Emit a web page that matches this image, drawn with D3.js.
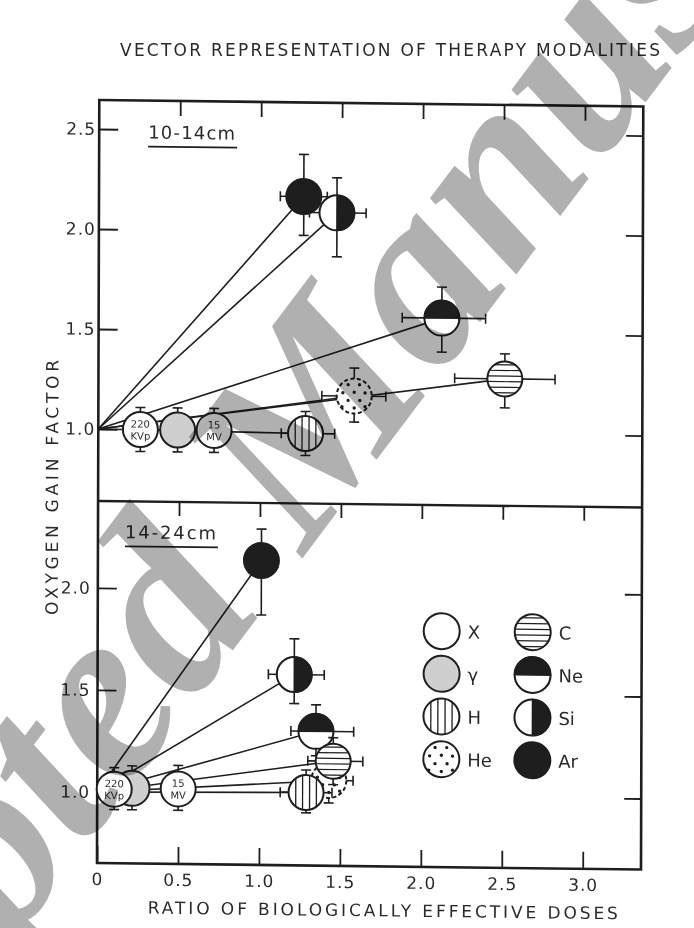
<!DOCTYPE html>
<html>
<head>
<meta charset="utf-8">
<script src="https://cdn.jsdelivr.net/npm/d3@7"></script>
<style>
body { margin: 0; background: #fff; }
svg text { font-family: "DejaVu Sans", sans-serif; fill: #2a2a2a; }
</style>
</head>
<body>
<svg id="chart" width="694" height="928"></svg>
<script>
var title = "VECTOR REPRESENTATION OF THERAPY MODALITIES";
var xTitle = "RATIO OF BIOLOGICALLY EFFECTIVE DOSES";
var yTitle = "OXYGEN GAIN FACTOR";

var xTicks = [0, 0.5, 1.0, 1.5, 2.0, 2.5, 3.0];
var yTicksTop = [1.0, 1.5, 2.0, 2.5];
var yTicksBot = [1.0, 1.5, 2.0];

var legendLeft = ["X", "γ", "H", "He"];
var legendRight = ["C", "Ne", "Si", "Ar"];

// 10-14 cm panel
var ptsTop = [
    {key: "X", tag: ["220", "KVp"], x: 0.26, y: 1.0, yLo: 0.89, yHi: 1.11},
    {key: "γ", x: 0.49, y: 1.0, yLo: 0.89, yHi: 1.11},
    {key: "X", tag: ["15", "MV"], x: 0.715, y: 1.0, yLo: 0.89, yHi: 1.11},
    {key: "H", x: 1.28, y: 0.99, yLo: 0.88, yHi: 1.10, xLo: 1.13, xHi: 1.46},
    {key: "He", x: 1.58, y: 1.18, yLo: 1.05, yHi: 1.32, xLo: 1.38, xHi: 1.775},
    {key: "C", x: 2.51, y: 1.275, yLo: 1.13, yHi: 1.40, xLo: 2.20, xHi: 2.82},
    {key: "Ne", x: 2.12, y: 1.575, yLo: 1.405, yHi: 1.73, xLo: 1.875, xHi: 2.39},
    {key: "Ar", x: 1.265, y: 2.175, yLo: 1.98, yHi: 2.385, xLo: 1.12, xHi: 1.41},
    {key: "Si", x: 1.47, y: 2.095, yLo: 1.875, yHi: 2.27, xLo: 1.30, xHi: 1.65}
];

// 14-24 cm panel
var ptsBot = [
    {key: "He", x: 1.43, y: 1.07, yLo: 0.96, yHi: 1.18, xLo: 1.28, xHi: 1.58},
    {key: "H", x: 1.29, y: 1.01, yLo: 0.91, yHi: 1.12, xLo: 1.13, xHi: 1.45},
    {key: "Ne", x: 1.35, y: 1.31, yLo: 1.19, yHi: 1.44, xLo: 1.195, xHi: 1.583},
    {key: "C", x: 1.457, y: 1.165, yLo: 1.05, yHi: 1.28, xLo: 1.30, xHi: 1.64},
    {key: "Si", x: 1.215, y: 1.587, yLo: 1.445, yHi: 1.762, xLo: 1.055, xHi: 1.40},
    {key: "Ar", x: 1.01, y: 2.144, yLo: 1.877, yHi: 2.298},
    {key: "γ", x: 0.215, y: 1.02, yLo: 0.915, yHi: 1.13},
    {key: "X", tag: ["220", "KVp"], x: 0.105, y: 1.015, yLo: 0.915, yHi: 1.12},
    {key: "X", tag: ["15", "MV"], x: 0.50, y: 1.02, yLo: 0.915, yHi: 1.135}
];

var origin = [0, 1.0];
var ink = "#1e1e1e";
var R = 17.5;

var svg = d3.select("#chart");

var x = d3.scaleLinear().domain([0, 3.36]).range([97, 641]);
var yTop = d3.scaleLinear().domain([0.64, 2.645]).range([501, 100]);
var yBot = d3.scaleLinear().domain([0.652, 2.426]).range([863, 501]);

svg.append("text")
    .attr("x", 120).attr("y", 56)
    .attr("textLength", 540).attr("lengthAdjust", "spacing")
    .style("font-size", "17px")
    .text(title);

// scanned page is a little skewed
var plot = svg.append("g")
    .attr("transform", "translate(97,863) matrix(1,0.012,-0.003,1,0,0) translate(-97,-863)");

var fmt = d => d === 0 ? "0" : d3.format(".1f")(d);

function cleanAxis(g) {
    g.select(".domain").remove();
    g.selectAll(".tick line").attr("stroke", ink).attr("stroke-width", 1.8);
    g.selectAll(".tick text").style("font-size", "17px").style("letter-spacing", "1px").attr("fill", "#2a2a2a");
}

// axes
plot.append("g").attr("transform", `translate(${x(0)},0)`)
    .call(d3.axisLeft(yTop).tickValues(yTicksTop).tickSize(-19).tickPadding(3).tickFormat(fmt))
    .call(cleanAxis);
plot.append("g").attr("transform", `translate(${x(0)},0)`)
    .call(d3.axisLeft(yBot).tickValues(yTicksBot).tickSize(-19).tickPadding(7).tickFormat(fmt))
    .call(cleanAxis);
plot.append("g").attr("transform", `translate(${x.range()[1]},0)`)
    .call(d3.axisRight(yTop).tickValues(yTicksTop).tickSize(-17).tickFormat(""))
    .call(cleanAxis);
plot.append("g").attr("transform", `translate(${x.range()[1]},0)`)
    .call(d3.axisRight(yBot).tickValues(yTicksBot).tickSize(-17).tickFormat(""))
    .call(cleanAxis);
plot.append("g").attr("transform", `translate(0,${yTop.range()[1]})`)
    .call(d3.axisTop(x).tickValues(xTicks.slice(1)).tickSize(-15).tickFormat(""))
    .call(cleanAxis);
plot.append("g").attr("transform", `translate(0,${yBot.range()[1]})`)
    .call(d3.axisTop(x).tickValues(xTicks.slice(1)).tickSize(-14).tickFormat(""))
    .call(cleanAxis);
plot.append("g").attr("transform", `translate(0,${yBot.range()[0]})`)
    .call(d3.axisBottom(x).tickValues(xTicks).tickSize(-17).tickPadding(10).tickFormat(fmt))
    .call(cleanAxis);

// frame + divider
plot.append("rect")
    .attr("x", x(0)).attr("y", yTop.range()[1])
    .attr("width", x.range()[1] - x(0))
    .attr("height", yBot.range()[0] - yTop.range()[1])
    .attr("fill", "none").attr("stroke", ink).attr("stroke-width", 2.6);
plot.append("line")
    .attr("x1", x(0)).attr("x2", x.range()[1])
    .attr("y1", yTop.range()[0]).attr("y2", yTop.range()[0])
    .attr("stroke", ink).attr("stroke-width", 2.4);

plot.append("text")
    .attr("transform", "translate(57,488) rotate(-90)")
    .attr("text-anchor", "middle")
    .attr("textLength", 255).attr("lengthAdjust", "spacing")
    .style("font-size", "17px")
    .text(yTitle);

plot.append("text")
    .attr("x", 148).attr("y", 913)
    .attr("textLength", 470).attr("lengthAdjust", "spacing")
    .style("font-size", "17px")
    .text(xTitle);

var clipId = 0;

function symbol(g, key, cx, cy, r, dashed) {
    var s = g.append("g");
    var fill = key === "γ" ? "#cfcfcf" : key === "Ar" ? ink : "#fff";
    s.append("circle").attr("cx", cx).attr("cy", cy).attr("r", r).attr("fill", fill);

    if (key === "H" || key === "C" || key === "He") {
        var id = "clip" + (clipId++);
        s.append("clipPath").attr("id", id)
            .append("circle").attr("cx", cx).attr("cy", cy).attr("r", r);
        var inner = s.append("g").attr("clip-path", `url(#${id})`);
        if (key === "H") {
            [-0.59, -0.2, 0.2, 0.59].forEach(k => inner.append("line")
                .attr("x1", cx + k * r).attr("x2", cx + k * r)
                .attr("y1", cy - r).attr("y2", cy + r)
                .attr("stroke", ink).attr("stroke-width", 1.3));
        } else if (key === "C") {
            [-0.8, -0.48, -0.16, 0.16, 0.48, 0.8].forEach(k => inner.append("line")
                .attr("y1", cy + k * r).attr("y2", cy + k * r)
                .attr("x1", cx - r).attr("x2", cx + r)
                .attr("stroke", ink).attr("stroke-width", 1.2));
        } else {
            [[-0.35, -0.65], [0.3, -0.65], [-0.65, -0.18], [0, -0.22], [0.62, -0.18],
             [-0.35, 0.25], [0.32, 0.25], [-0.7, 0.62], [0, 0.68], [0.62, 0.6]]
                .forEach(p => inner.append("circle")
                    .attr("cx", cx + p[0] * r).attr("cy", cy + p[1] * r)
                    .attr("r", 1.7).attr("fill", ink));
        }
    }
    if (key === "Ne") {
        s.append("path")
            .attr("d", `M${cx - r},${cy} A${r},${r} 0 0 1 ${cx + r},${cy} Z`)
            .attr("fill", ink).attr("stroke", ink).attr("stroke-width", 1.5);
    }
    if (key === "Si") {
        s.append("path")
            .attr("d", `M${cx},${cy - r} A${r},${r} 0 0 1 ${cx},${cy + r} Z`)
            .attr("fill", ink).attr("stroke", ink).attr("stroke-width", 1.5);
    }
    s.append("circle").attr("cx", cx).attr("cy", cy).attr("r", r)
        .attr("fill", "none").attr("stroke", ink).attr("stroke-width", 2)
        .attr("stroke-dasharray", dashed && key === "He" ? "4,2.5" : null);
    return s;
}

function errorBars(g, d, y) {
    var cx = x(d.x), cy = y(d.y), cap = 5;
    var e = g.append("g").attr("stroke", ink).attr("stroke-width", 1.6);
    if (d.yLo !== undefined) {
        e.append("line").attr("x1", cx).attr("x2", cx).attr("y1", y(d.yLo)).attr("y2", y(d.yHi));
        [d.yLo, d.yHi].forEach(v => e.append("line")
            .attr("x1", cx - cap).attr("x2", cx + cap).attr("y1", y(v)).attr("y2", y(v)));
    }
    if (d.xLo !== undefined) {
        e.append("line").attr("y1", cy).attr("y2", cy).attr("x1", x(d.xLo)).attr("x2", x(d.xHi));
        [d.xLo, d.xHi].forEach(v => e.append("line")
            .attr("y1", cy - cap).attr("y2", cy + cap).attr("x1", x(v)).attr("x2", x(v)));
    }
}

function drawPanel(pts, y, label, lx, ly, lw) {
    var g = plot.append("g");

    g.selectAll("line.vector")
        .data(pts.filter(d => d.key !== "X" && d.key !== "γ"))
        .enter().append("line")
        .attr("class", "vector")
        .attr("x1", x(origin[0])).attr("y1", y(origin[1]))
        .attr("x2", d => x(d.x)).attr("y2", d => y(d.y))
        .attr("stroke", ink).attr("stroke-width", 1.6);

    pts.forEach(d => {
        errorBars(g, d, y);
        symbol(g, d.key, x(d.x), y(d.y), R, true);
        if (d.tag) {
            g.append("text").attr("x", x(d.x)).attr("y", y(d.y) - 2)
                .attr("text-anchor", "middle").style("font-size", "10px").text(d.tag[0]);
            g.append("text").attr("x", x(d.x)).attr("y", y(d.y) + 10)
                .attr("text-anchor", "middle").style("font-size", "10px").text(d.tag[1]);
        }
    });

    g.append("text").attr("x", lx).attr("y", ly)
        .attr("textLength", lw).attr("lengthAdjust", "spacing")
        .style("font-size", "18px").text(label);
    g.append("line").attr("x1", lx).attr("x2", lx + lw + 2)
        .attr("y1", ly + 8).attr("y2", ly + 8)
        .attr("stroke", ink).attr("stroke-width", 1.8);
}

drawPanel(ptsTop, yTop, "10-14cm", 146, 138, 87);
drawPanel(ptsBot, yBot, "14-24cm", 124, 538, 91);

// legend
var legend = plot.append("g");
[legendLeft, legendRight].forEach((col, ci) => {
    col.forEach((k, ri) => {
        var cx = 441 + ci * 91, cy = 627 + ri * 42.7;
        symbol(legend, k, cx, cy, 18, false);
        legend.append("text").attr("x", cx + 26).attr("y", cy + 7)
            .style("font-size", "18px").text(k);
    });
});

// watermark
svg.append("text")
    .attr("transform", "translate(365,475) rotate(-53)")
    .attr("text-anchor", "middle")
    .style("font-family", "'Liberation Serif', serif")
    .style("font-style", "italic")
    .style("font-weight", "bold")
    .style("font-size", "250px")
    .style("fill", "#b0b0b0")
    .style("mix-blend-mode", "multiply")
    .text("Accepted Manuscript");
</script>
</body>
</html>
